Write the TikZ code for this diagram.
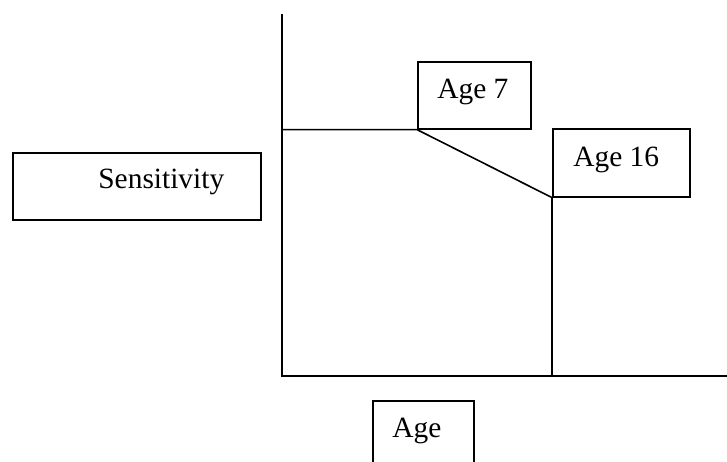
\documentclass[tikz,border=0pt]{standalone}
\usepackage{fontspec}
\setmainfont{Liberation Serif}
\begin{document}
\begin{tikzpicture}[x=0.5pt,y=-0.5pt,
    frame/.style={draw, line width=0.8pt, inner sep=0pt, anchor=north west},
    lab/.style={anchor=base west, inner sep=0pt, font=\fontsize{14.7}{17}\selectfont},
    curve/.style={line width=0.8pt}]
    \useasboundingbox (0,0) rectangle (727,461);
    % axes
    \coordinate (top) at (282,14);
    \coordinate (origin) at (282,376);
    \coordinate (right) at (727,376);
    \draw[curve] (top) -- (origin) -- (right);
    % boxes with their labels
    \foreach \nm/\x/\y/\w/\h/\tx/\ty/\lab in {sens/12/152/248/67/98/188/{Sensitivity}, seven/417/61/113/67/437/98/{Age 7}, sixteen/552/128/137/68/573/166/{Age 16}, age/372/400/101/80/392/437/{Age}} {
        \node[frame, minimum width=\w*0.5pt, minimum height=\h*0.5pt] (\nm) at (\x,\y) {};
        \node[lab] (\nm-text) at (\tx,\ty) {\lab};
    }
    % sensitivity curve
    \coordinate (level) at (origin |- seven.south west);
    \coordinate (drop) at (sixteen.south west |- origin);
    \draw[curve] (level) -- (seven.south west) -- (sixteen.south west) -- (drop);
\end{tikzpicture}
\end{document}
